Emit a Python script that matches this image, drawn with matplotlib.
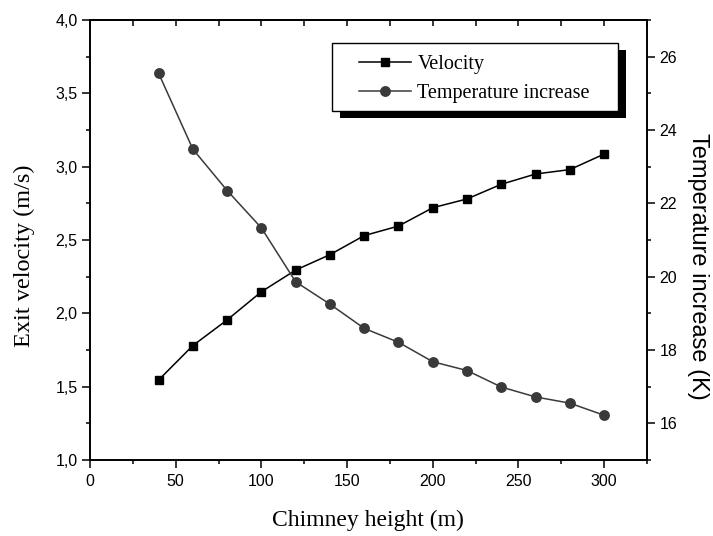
import matplotlib
matplotlib.use("Agg")
import matplotlib.pyplot as plt
from matplotlib.patches import Rectangle
from matplotlib.ticker import MultipleLocator, FuncFormatter

height = [40, 60, 80, 100, 120, 140, 160, 180, 200, 220, 240, 260, 280, 300]
velocity = [1.545, 1.78, 1.955, 2.147, 2.295, 2.40, 2.53, 2.595, 2.72, 2.78, 2.88, 2.95, 2.98, 3.086]
temperature = [25.55, 23.48, 22.35, 21.33, 19.86, 19.25, 18.59, 18.21, 17.68, 17.44, 16.99, 16.72, 16.55, 16.22]

SERIF = ["Liberation Serif", "DejaVu Serif"]
SANS = ["Liberation Sans", "DejaVu Sans"]

W, H = 713, 536
fig = plt.figure(figsize=(W/100, H/100), dpi=100)
ax = fig.add_axes([90/W, 1-460/H, 557/W, 440/H])
ax2 = ax.twinx()

l1, = ax.plot(height, velocity, color="black", lw=1.1, marker="s", ms=6,
              mfc="black", mec="black", label="Velocity", zorder=3)
l2, = ax2.plot(height, temperature, color="#3a3a3a", lw=1.1, marker="o", ms=6.8,
               mfc="#3a3a3a", mec="#3a3a3a", label="Temperature increase", zorder=3)

ax.set_xlim(0, 325)
ax.set_ylim(1.0, 4.0)
ax2.set_ylim(15, 27)

comma = FuncFormatter(lambda v, p: f"{v:.1f}".replace(".", ","))
ax.yaxis.set_major_locator(MultipleLocator(0.5))
ax.yaxis.set_minor_locator(MultipleLocator(0.25))
ax.yaxis.set_major_formatter(comma)
ax.xaxis.set_major_locator(MultipleLocator(50))
ax.xaxis.set_minor_locator(MultipleLocator(25))
ax2.yaxis.set_major_locator(MultipleLocator(2))
ax2.yaxis.set_minor_locator(MultipleLocator(1))
ax2.yaxis.set_major_formatter(FuncFormatter(lambda v, p: f"{int(v)}" if 16 <= v <= 26 else ""))

for a in (ax, ax2):
    for s in a.spines.values():
        s.set_linewidth(1.2)

TS = 11.5
ax.tick_params(axis="x", which="major", direction="out", length=6, width=1.1,
               top=False, labelsize=TS, pad=4)
ax.tick_params(axis="x", which="minor", direction="out", length=3, width=1.1, top=False)
ax.tick_params(axis="y", which="major", direction="out", length=6, width=1.1,
               right=False, labelsize=TS, pad=3)
ax.tick_params(axis="y", which="minor", direction="out", length=3, width=1.1, right=False)
ax2.tick_params(axis="y", which="major", direction="out", length=6, width=1.1, labelsize=TS, pad=3)
ax2.tick_params(axis="y", which="minor", direction="out", length=3, width=1.1)

# top ticks pointing inward
sec = ax.secondary_xaxis("top")
sec.xaxis.set_major_locator(MultipleLocator(25))
sec.tick_params(axis="x", which="major", direction="in", length=4, width=1.1, labeltop=False)
sec.tick_params(axis="x", which="minor", length=0)
sec.spines["top"].set_linewidth(1.2)

for lab in ax.get_xticklabels() + ax.get_yticklabels() + ax2.get_yticklabels():
    lab.set_family(SANS)

fig.text(368/W, 1-520/H, "Chimney height (m)", family=SERIF, fontsize=17,
         ha="center", va="center")
fig.text(24/W, 1-256/H, "Exit velocity (m/s)", family=SERIF, fontsize=17.5,
         ha="center", va="center", rotation=90)
fig.text(698/W, 1-266/H, "Temperature increase (K)", family=SANS, fontsize=17,
         ha="center", va="center", rotation=270)

# legend frame with offset shadow
fx0, fx1, fy0, fy1 = 332, 618, 43, 111
fig.patches.append(Rectangle((fx0/W + 8/W, 1-fy1/H - 7/H), (fx1-fx0)/W, (fy1-fy0)/H,
                             transform=fig.transFigure, facecolor="black",
                             edgecolor="black", lw=0, zorder=8))
fig.patches.append(Rectangle((fx0/W, 1-fy1/H), (fx1-fx0)/W, (fy1-fy0)/H,
                             transform=fig.transFigure, facecolor="white",
                             edgecolor="black", lw=1.0, zorder=9))
leg = fig.legend([l1, l2], ["Velocity", "Temperature increase"], loc="upper left",
                 bbox_to_anchor=(359/W, 1-55/H), borderaxespad=0, borderpad=0,
                 frameon=False, prop={"family": SERIF, "size": 14.5}, handlelength=2.6,
                 labelspacing=0.48, handletextpad=0.3)
leg.set_zorder(10)

fig.savefig("out.png", dpi=100)
